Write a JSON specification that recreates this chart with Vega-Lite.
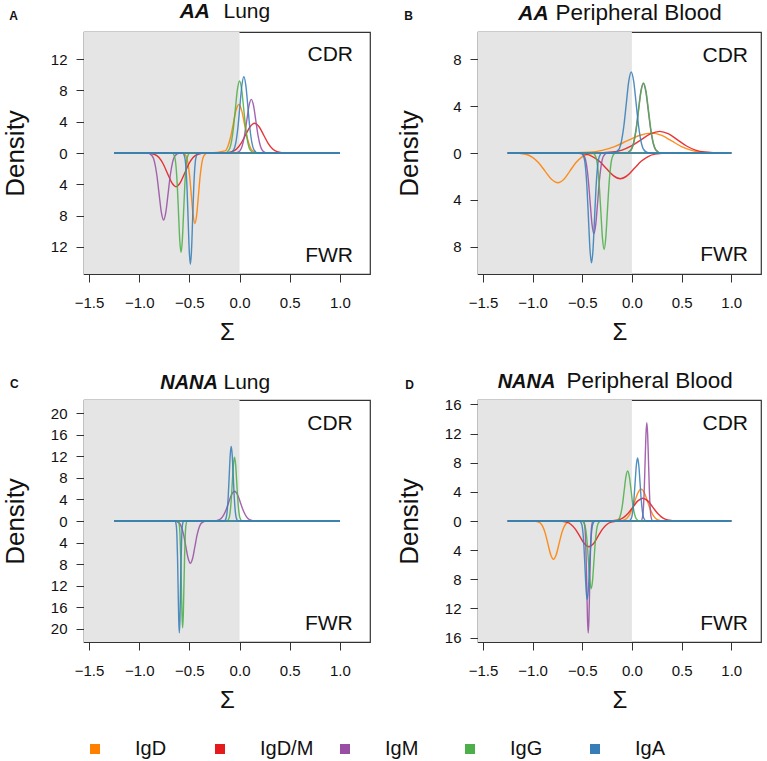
{
"$schema": "https://vega.github.io/schema/vega-lite/v6.json",
"padding": {"left": 1, "top": 0, "right": 0, "bottom": 0},
"config": {
 "font": "Liberation Sans",
 "view": {"stroke": "#333333", "strokeWidth": 1.2},
 "axis": {"domain": false, "grid": false, "tickColor": "#333333", "tickSize": 8, "labelFontSize": 15, "labelColor": "#111111", "titleColor": "#111111", "titleFontWeight": "normal", "labelOverlap": false, "tickCount": 30},
 "line": {"opacity": 0.88},
 "text": {"color": "#111111"}
},
"datasets": {
"A": [
{"g":"IgD","r":"C","x":-1.25,"y":0},{"g":"IgD","r":"C","x":-0.2995,"y":0},{"g":"IgD","r":"C","x":-0.1445,"y":0.27},{"g":"IgD","r":"C","x":-0.117,"y":0.84},{"g":"IgD","r":"C","x":-0.0895,"y":2.01},{"g":"IgD","r":"C","x":-0.062,"y":3.76},{"g":"IgD","r":"C","x":-0.0345,"y":5.47},{"g":"IgD","r":"C","x":-0.007,"y":6.2},{"g":"IgD","r":"C","x":0.0205,"y":5.47},{"g":"IgD","r":"C","x":0.048,"y":3.76},{"g":"IgD","r":"C","x":0.0755,"y":2.01},{"g":"IgD","r":"C","x":0.103,"y":0.84},{"g":"IgD","r":"C","x":0.1305,"y":0.27},{"g":"IgD","r":"C","x":0.1855,"y":0},{"g":"IgD","r":"C","x":1,"y":0},
{"g":"IgD","r":"F","x":-1.25,"y":0},{"g":"IgD","r":"F","x":-0.5675,"y":0},{"g":"IgD","r":"F","x":-0.5325,"y":-0.4},{"g":"IgD","r":"F","x":-0.515,"y":-1.22},{"g":"IgD","r":"F","x":-0.4975,"y":-2.92},{"g":"IgD","r":"F","x":-0.48,"y":-5.46},{"g":"IgD","r":"F","x":-0.4625,"y":-7.94},{"g":"IgD","r":"F","x":-0.445,"y":-9},{"g":"IgD","r":"F","x":-0.4275,"y":-7.94},{"g":"IgD","r":"F","x":-0.41,"y":-5.46},{"g":"IgD","r":"F","x":-0.3925,"y":-2.92},{"g":"IgD","r":"F","x":-0.375,"y":-1.22},{"g":"IgD","r":"F","x":-0.3575,"y":-0.4},{"g":"IgD","r":"F","x":-0.3225,"y":0},{"g":"IgD","r":"F","x":1,"y":0},
{"g":"IgD/M","r":"C","x":-1.25,"y":0},{"g":"IgD/M","r":"C","x":-0.165,"y":0},{"g":"IgD/M","r":"C","x":-0.075,"y":0.17},{"g":"IgD/M","r":"C","x":-0.03,"y":0.51},{"g":"IgD/M","r":"C","x":0.015,"y":1.23},{"g":"IgD/M","r":"C","x":0.06,"y":2.3},{"g":"IgD/M","r":"C","x":0.105,"y":3.35},{"g":"IgD/M","r":"C","x":0.15,"y":3.8},{"g":"IgD/M","r":"C","x":0.195,"y":3.35},{"g":"IgD/M","r":"C","x":0.24,"y":2.3},{"g":"IgD/M","r":"C","x":0.285,"y":1.23},{"g":"IgD/M","r":"C","x":0.33,"y":0.51},{"g":"IgD/M","r":"C","x":0.375,"y":0.17},{"g":"IgD/M","r":"C","x":0.465,"y":0},{"g":"IgD/M","r":"C","x":1,"y":0},
{"g":"IgD/M","r":"F","x":-1.25,"y":0},{"g":"IgD/M","r":"F","x":-0.9305,"y":0},{"g":"IgD/M","r":"F","x":-0.8455,"y":-0.19},{"g":"IgD/M","r":"F","x":-0.803,"y":-0.58},{"g":"IgD/M","r":"F","x":-0.7605,"y":-1.4},{"g":"IgD/M","r":"F","x":-0.718,"y":-2.61},{"g":"IgD/M","r":"F","x":-0.6755,"y":-3.79},{"g":"IgD/M","r":"F","x":-0.633,"y":-4.3},{"g":"IgD/M","r":"F","x":-0.5905,"y":-3.79},{"g":"IgD/M","r":"F","x":-0.548,"y":-2.61},{"g":"IgD/M","r":"F","x":-0.5055,"y":-1.4},{"g":"IgD/M","r":"F","x":-0.463,"y":-0.58},{"g":"IgD/M","r":"F","x":-0.4205,"y":-0.19},{"g":"IgD/M","r":"F","x":-0.3355,"y":0},{"g":"IgD/M","r":"F","x":1,"y":0},
{"g":"IgM","r":"C","x":-1.25,"y":0},{"g":"IgM","r":"C","x":-0.0405,"y":0},{"g":"IgM","r":"C","x":0.0045,"y":0.3},{"g":"IgM","r":"C","x":0.027,"y":0.93},{"g":"IgM","r":"C","x":0.0495,"y":2.22},{"g":"IgM","r":"C","x":0.072,"y":4.15},{"g":"IgM","r":"C","x":0.0945,"y":6.05},{"g":"IgM","r":"C","x":0.117,"y":6.85},{"g":"IgM","r":"C","x":0.1395,"y":6.05},{"g":"IgM","r":"C","x":0.162,"y":4.15},{"g":"IgM","r":"C","x":0.1845,"y":2.22},{"g":"IgM","r":"C","x":0.207,"y":0.93},{"g":"IgM","r":"C","x":0.2295,"y":0.3},{"g":"IgM","r":"C","x":0.2745,"y":0},{"g":"IgM","r":"C","x":1,"y":0},
{"g":"IgM","r":"F","x":-1.25,"y":0},{"g":"IgM","r":"F","x":-0.9145,"y":0},{"g":"IgM","r":"F","x":-0.8695,"y":-0.38},{"g":"IgM","r":"F","x":-0.847,"y":-1.16},{"g":"IgM","r":"F","x":-0.8245,"y":-2.78},{"g":"IgM","r":"F","x":-0.802,"y":-5.19},{"g":"IgM","r":"F","x":-0.7795,"y":-7.55},{"g":"IgM","r":"F","x":-0.757,"y":-8.55},{"g":"IgM","r":"F","x":-0.7345,"y":-7.55},{"g":"IgM","r":"F","x":-0.712,"y":-5.19},{"g":"IgM","r":"F","x":-0.6895,"y":-2.78},{"g":"IgM","r":"F","x":-0.667,"y":-1.16},{"g":"IgM","r":"F","x":-0.6445,"y":-0.38},{"g":"IgM","r":"F","x":-0.5995,"y":0},{"g":"IgM","r":"F","x":1,"y":0},
{"g":"IgG","r":"C","x":-1.25,"y":0},{"g":"IgG","r":"C","x":-0.147,"y":0},{"g":"IgG","r":"C","x":-0.105,"y":0.4},{"g":"IgG","r":"C","x":-0.084,"y":1.24},{"g":"IgG","r":"C","x":-0.063,"y":2.99},{"g":"IgG","r":"C","x":-0.042,"y":5.58},{"g":"IgG","r":"C","x":-0.021,"y":8.12},{"g":"IgG","r":"C","x":0,"y":9.2},{"g":"IgG","r":"C","x":0.021,"y":8.12},{"g":"IgG","r":"C","x":0.042,"y":5.58},{"g":"IgG","r":"C","x":0.063,"y":2.99},{"g":"IgG","r":"C","x":0.084,"y":1.24},{"g":"IgG","r":"C","x":0.105,"y":0.4},{"g":"IgG","r":"C","x":0.147,"y":0},{"g":"IgG","r":"C","x":1,"y":0},
{"g":"IgG","r":"F","x":-1.25,"y":0},{"g":"IgG","r":"F","x":-0.6705,"y":0},{"g":"IgG","r":"F","x":-0.6455,"y":-0.56},{"g":"IgG","r":"F","x":-0.633,"y":-1.72},{"g":"IgG","r":"F","x":-0.6205,"y":-4.12},{"g":"IgG","r":"F","x":-0.608,"y":-7.7},{"g":"IgG","r":"F","x":-0.5955,"y":-11.21},{"g":"IgG","r":"F","x":-0.583,"y":-12.7},{"g":"IgG","r":"F","x":-0.5705,"y":-11.21},{"g":"IgG","r":"F","x":-0.558,"y":-7.7},{"g":"IgG","r":"F","x":-0.5455,"y":-4.12},{"g":"IgG","r":"F","x":-0.533,"y":-1.72},{"g":"IgG","r":"F","x":-0.5205,"y":-0.56},{"g":"IgG","r":"F","x":-0.4955,"y":0},{"g":"IgG","r":"F","x":1,"y":0},
{"g":"IgA","r":"C","x":-1.25,"y":0},{"g":"IgA","r":"C","x":-0.097,"y":0},{"g":"IgA","r":"C","x":-0.057,"y":0.43},{"g":"IgA","r":"C","x":-0.037,"y":1.32},{"g":"IgA","r":"C","x":-0.017,"y":3.16},{"g":"IgA","r":"C","x":0.003,"y":5.91},{"g":"IgA","r":"C","x":0.023,"y":8.6},{"g":"IgA","r":"C","x":0.043,"y":9.74},{"g":"IgA","r":"C","x":0.063,"y":8.6},{"g":"IgA","r":"C","x":0.083,"y":5.91},{"g":"IgA","r":"C","x":0.103,"y":3.16},{"g":"IgA","r":"C","x":0.123,"y":1.32},{"g":"IgA","r":"C","x":0.143,"y":0.43},{"g":"IgA","r":"C","x":0.183,"y":0},{"g":"IgA","r":"C","x":1,"y":0},
{"g":"IgA","r":"F","x":-1.25,"y":0},{"g":"IgA","r":"F","x":-0.567,"y":0},{"g":"IgA","r":"F","x":-0.545,"y":-0.62},{"g":"IgA","r":"F","x":-0.534,"y":-1.92},{"g":"IgA","r":"F","x":-0.523,"y":-4.61},{"g":"IgA","r":"F","x":-0.512,"y":-8.61},{"g":"IgA","r":"F","x":-0.501,"y":-12.53},{"g":"IgA","r":"F","x":-0.49,"y":-14.2},{"g":"IgA","r":"F","x":-0.479,"y":-12.53},{"g":"IgA","r":"F","x":-0.468,"y":-8.61},{"g":"IgA","r":"F","x":-0.457,"y":-4.61},{"g":"IgA","r":"F","x":-0.446,"y":-1.92},{"g":"IgA","r":"F","x":-0.435,"y":-0.62},{"g":"IgA","r":"F","x":-0.413,"y":0},{"g":"IgA","r":"F","x":1,"y":0}
],
"B": [
{"g":"IgD","r":"C","x":-1.25,"y":0},{"g":"IgD","r":"C","x":-0.675,"y":0},{"g":"IgD","r":"C","x":-0.425,"y":0.07},{"g":"IgD","r":"C","x":-0.3,"y":0.23},{"g":"IgD","r":"C","x":-0.175,"y":0.55},{"g":"IgD","r":"C","x":-0.05,"y":1.03},{"g":"IgD","r":"C","x":0.075,"y":1.5},{"g":"IgD","r":"C","x":0.2,"y":1.7},{"g":"IgD","r":"C","x":0.3,"y":1.5},{"g":"IgD","r":"C","x":0.4,"y":1.03},{"g":"IgD","r":"C","x":0.5,"y":0.55},{"g":"IgD","r":"C","x":0.6,"y":0.23},{"g":"IgD","r":"C","x":0.7,"y":0.07},{"g":"IgD","r":"C","x":0.9,"y":0},{"g":"IgD","r":"C","x":1,"y":0},
{"g":"IgD","r":"F","x":-1.25,"y":0},{"g":"IgD","r":"F","x":-1.2,"y":0},{"g":"IgD","r":"F","x":-1.07,"y":-0.11},{"g":"IgD","r":"F","x":-1.005,"y":-0.35},{"g":"IgD","r":"F","x":-0.94,"y":-0.83},{"g":"IgD","r":"F","x":-0.875,"y":-1.55},{"g":"IgD","r":"F","x":-0.81,"y":-2.25},{"g":"IgD","r":"F","x":-0.745,"y":-2.55},{"g":"IgD","r":"F","x":-0.685,"y":-2.25},{"g":"IgD","r":"F","x":-0.625,"y":-1.55},{"g":"IgD","r":"F","x":-0.565,"y":-0.83},{"g":"IgD","r":"F","x":-0.505,"y":-0.35},{"g":"IgD","r":"F","x":-0.445,"y":-0.11},{"g":"IgD","r":"F","x":-0.325,"y":0},{"g":"IgD","r":"F","x":1,"y":0},
{"g":"IgD/M","r":"C","x":-1.25,"y":0},{"g":"IgD/M","r":"C","x":-0.385,"y":0},{"g":"IgD/M","r":"C","x":-0.195,"y":0.08},{"g":"IgD/M","r":"C","x":-0.1,"y":0.25},{"g":"IgD/M","r":"C","x":-0.005,"y":0.6},{"g":"IgD/M","r":"C","x":0.09,"y":1.12},{"g":"IgD/M","r":"C","x":0.185,"y":1.63},{"g":"IgD/M","r":"C","x":0.28,"y":1.85},{"g":"IgD/M","r":"C","x":0.37,"y":1.63},{"g":"IgD/M","r":"C","x":0.46,"y":1.12},{"g":"IgD/M","r":"C","x":0.55,"y":0.6},{"g":"IgD/M","r":"C","x":0.64,"y":0.25},{"g":"IgD/M","r":"C","x":0.73,"y":0.08},{"g":"IgD/M","r":"C","x":0.91,"y":0},{"g":"IgD/M","r":"C","x":1,"y":0},
{"g":"IgD/M","r":"F","x":-1.25,"y":0},{"g":"IgD/M","r":"F","x":-0.607,"y":0},{"g":"IgD/M","r":"F","x":-0.467,"y":-0.1},{"g":"IgD/M","r":"F","x":-0.397,"y":-0.3},{"g":"IgD/M","r":"F","x":-0.327,"y":-0.71},{"g":"IgD/M","r":"F","x":-0.257,"y":-1.33},{"g":"IgD/M","r":"F","x":-0.187,"y":-1.94},{"g":"IgD/M","r":"F","x":-0.117,"y":-2.2},{"g":"IgD/M","r":"F","x":-0.047,"y":-1.94},{"g":"IgD/M","r":"F","x":0.023,"y":-1.33},{"g":"IgD/M","r":"F","x":0.093,"y":-0.71},{"g":"IgD/M","r":"F","x":0.163,"y":-0.3},{"g":"IgD/M","r":"F","x":0.233,"y":-0.1},{"g":"IgD/M","r":"F","x":0.373,"y":0},{"g":"IgD/M","r":"F","x":1,"y":0},
{"g":"IgM","r":"C","x":-1.25,"y":0},{"g":"IgM","r":"C","x":-0.06,"y":0},{"g":"IgM","r":"C","x":-0.01,"y":0.26},{"g":"IgM","r":"C","x":0.015,"y":0.81},{"g":"IgM","r":"C","x":0.04,"y":1.93},{"g":"IgM","r":"C","x":0.065,"y":3.61},{"g":"IgM","r":"C","x":0.09,"y":5.25},{"g":"IgM","r":"C","x":0.115,"y":5.95},{"g":"IgM","r":"C","x":0.14,"y":5.25},{"g":"IgM","r":"C","x":0.165,"y":3.61},{"g":"IgM","r":"C","x":0.19,"y":1.93},{"g":"IgM","r":"C","x":0.215,"y":0.81},{"g":"IgM","r":"C","x":0.24,"y":0.26},{"g":"IgM","r":"C","x":0.29,"y":0},{"g":"IgM","r":"C","x":1,"y":0},
{"g":"IgM","r":"F","x":-1.25,"y":0},{"g":"IgM","r":"F","x":-0.516,"y":0},{"g":"IgM","r":"F","x":-0.478,"y":-0.3},{"g":"IgM","r":"F","x":-0.459,"y":-0.93},{"g":"IgM","r":"F","x":-0.44,"y":-2.24},{"g":"IgM","r":"F","x":-0.421,"y":-4.18},{"g":"IgM","r":"F","x":-0.402,"y":-6.09},{"g":"IgM","r":"F","x":-0.383,"y":-6.9},{"g":"IgM","r":"F","x":-0.364,"y":-6.09},{"g":"IgM","r":"F","x":-0.345,"y":-4.18},{"g":"IgM","r":"F","x":-0.326,"y":-2.24},{"g":"IgM","r":"F","x":-0.307,"y":-0.93},{"g":"IgM","r":"F","x":-0.288,"y":-0.3},{"g":"IgM","r":"F","x":-0.25,"y":0},{"g":"IgM","r":"F","x":1,"y":0},
{"g":"IgG","r":"C","x":-1.25,"y":0},{"g":"IgG","r":"C","x":-0.058,"y":0},{"g":"IgG","r":"C","x":-0.008,"y":0.26},{"g":"IgG","r":"C","x":0.017,"y":0.81},{"g":"IgG","r":"C","x":0.042,"y":1.95},{"g":"IgG","r":"C","x":0.067,"y":3.64},{"g":"IgG","r":"C","x":0.092,"y":5.3},{"g":"IgG","r":"C","x":0.117,"y":6},{"g":"IgG","r":"C","x":0.142,"y":5.3},{"g":"IgG","r":"C","x":0.167,"y":3.64},{"g":"IgG","r":"C","x":0.192,"y":1.95},{"g":"IgG","r":"C","x":0.217,"y":0.81},{"g":"IgG","r":"C","x":0.242,"y":0.26},{"g":"IgG","r":"C","x":0.292,"y":0},{"g":"IgG","r":"C","x":1,"y":0},
{"g":"IgG","r":"F","x":-1.25,"y":0},{"g":"IgG","r":"F","x":-0.3955,"y":0},{"g":"IgG","r":"F","x":-0.3625,"y":-0.36},{"g":"IgG","r":"F","x":-0.346,"y":-1.12},{"g":"IgG","r":"F","x":-0.3295,"y":-2.68},{"g":"IgG","r":"F","x":-0.313,"y":-5},{"g":"IgG","r":"F","x":-0.2965,"y":-7.28},{"g":"IgG","r":"F","x":-0.28,"y":-8.25},{"g":"IgG","r":"F","x":-0.2635,"y":-7.28},{"g":"IgG","r":"F","x":-0.247,"y":-5},{"g":"IgG","r":"F","x":-0.2305,"y":-2.68},{"g":"IgG","r":"F","x":-0.214,"y":-1.12},{"g":"IgG","r":"F","x":-0.1975,"y":-0.36},{"g":"IgG","r":"F","x":-0.1645,"y":0},{"g":"IgG","r":"F","x":1,"y":0},
{"g":"IgA","r":"C","x":-1.25,"y":0},{"g":"IgA","r":"C","x":-0.182,"y":0},{"g":"IgA","r":"C","x":-0.132,"y":0.3},{"g":"IgA","r":"C","x":-0.107,"y":0.94},{"g":"IgA","r":"C","x":-0.082,"y":2.25},{"g":"IgA","r":"C","x":-0.057,"y":4.2},{"g":"IgA","r":"C","x":-0.032,"y":6.12},{"g":"IgA","r":"C","x":-0.007,"y":6.93},{"g":"IgA","r":"C","x":0.018,"y":6.12},{"g":"IgA","r":"C","x":0.043,"y":4.2},{"g":"IgA","r":"C","x":0.068,"y":2.25},{"g":"IgA","r":"C","x":0.093,"y":0.94},{"g":"IgA","r":"C","x":0.118,"y":0.3},{"g":"IgA","r":"C","x":0.168,"y":0},{"g":"IgA","r":"C","x":1,"y":0},
{"g":"IgA","r":"F","x":-1.25,"y":0},{"g":"IgA","r":"F","x":-0.512,"y":0},{"g":"IgA","r":"F","x":-0.482,"y":-0.41},{"g":"IgA","r":"F","x":-0.467,"y":-1.27},{"g":"IgA","r":"F","x":-0.452,"y":-3.05},{"g":"IgA","r":"F","x":-0.437,"y":-5.7},{"g":"IgA","r":"F","x":-0.422,"y":-8.3},{"g":"IgA","r":"F","x":-0.407,"y":-9.4},{"g":"IgA","r":"F","x":-0.392,"y":-8.3},{"g":"IgA","r":"F","x":-0.377,"y":-5.7},{"g":"IgA","r":"F","x":-0.362,"y":-3.05},{"g":"IgA","r":"F","x":-0.347,"y":-1.27},{"g":"IgA","r":"F","x":-0.332,"y":-0.41},{"g":"IgA","r":"F","x":-0.302,"y":0},{"g":"IgA","r":"F","x":1,"y":0}
],
"C": [
{"g":"IgM","r":"C","x":-1.25,"y":0},{"g":"IgM","r":"C","x":-0.26,"y":0},{"g":"IgM","r":"C","x":-0.2,"y":0.24},{"g":"IgM","r":"C","x":-0.17,"y":0.75},{"g":"IgM","r":"C","x":-0.14,"y":1.8},{"g":"IgM","r":"C","x":-0.11,"y":3.35},{"g":"IgM","r":"C","x":-0.08,"y":4.88},{"g":"IgM","r":"C","x":-0.05,"y":5.53},{"g":"IgM","r":"C","x":-0.02,"y":4.88},{"g":"IgM","r":"C","x":0.01,"y":3.35},{"g":"IgM","r":"C","x":0.04,"y":1.8},{"g":"IgM","r":"C","x":0.07,"y":0.75},{"g":"IgM","r":"C","x":0.1,"y":0.24},{"g":"IgM","r":"C","x":0.16,"y":0},{"g":"IgM","r":"C","x":1,"y":0},
{"g":"IgM","r":"F","x":-1.25,"y":0},{"g":"IgM","r":"F","x":-0.6475,"y":0},{"g":"IgM","r":"F","x":-0.6025,"y":-0.34},{"g":"IgM","r":"F","x":-0.58,"y":-1.06},{"g":"IgM","r":"F","x":-0.5575,"y":-2.54},{"g":"IgM","r":"F","x":-0.535,"y":-4.75},{"g":"IgM","r":"F","x":-0.5125,"y":-6.91},{"g":"IgM","r":"F","x":-0.49,"y":-7.83},{"g":"IgM","r":"F","x":-0.4675,"y":-6.91},{"g":"IgM","r":"F","x":-0.445,"y":-4.75},{"g":"IgM","r":"F","x":-0.4225,"y":-2.54},{"g":"IgM","r":"F","x":-0.4,"y":-1.06},{"g":"IgM","r":"F","x":-0.3775,"y":-0.34},{"g":"IgM","r":"F","x":-0.3325,"y":0},{"g":"IgM","r":"F","x":1,"y":0},
{"g":"IgG","r":"C","x":-1.25,"y":0},{"g":"IgG","r":"C","x":-0.127,"y":0},{"g":"IgG","r":"C","x":-0.105,"y":0.52},{"g":"IgG","r":"C","x":-0.094,"y":1.6},{"g":"IgG","r":"C","x":-0.083,"y":3.85},{"g":"IgG","r":"C","x":-0.072,"y":7.19},{"g":"IgG","r":"C","x":-0.061,"y":10.47},{"g":"IgG","r":"C","x":-0.05,"y":11.86},{"g":"IgG","r":"C","x":-0.039,"y":10.47},{"g":"IgG","r":"C","x":-0.028,"y":7.19},{"g":"IgG","r":"C","x":-0.017,"y":3.85},{"g":"IgG","r":"C","x":-0.006,"y":1.6},{"g":"IgG","r":"C","x":0.005,"y":0.52},{"g":"IgG","r":"C","x":0.027,"y":0},{"g":"IgG","r":"C","x":1,"y":0},
{"g":"IgG","r":"F","x":-1.25,"y":0},{"g":"IgG","r":"F","x":-0.6125,"y":0},{"g":"IgG","r":"F","x":-0.5995,"y":-0.87},{"g":"IgG","r":"F","x":-0.593,"y":-2.68},{"g":"IgG","r":"F","x":-0.5865,"y":-6.43},{"g":"IgG","r":"F","x":-0.58,"y":-12.01},{"g":"IgG","r":"F","x":-0.5735,"y":-17.47},{"g":"IgG","r":"F","x":-0.567,"y":-19.8},{"g":"IgG","r":"F","x":-0.5605,"y":-17.47},{"g":"IgG","r":"F","x":-0.554,"y":-12.01},{"g":"IgG","r":"F","x":-0.5475,"y":-6.43},{"g":"IgG","r":"F","x":-0.541,"y":-2.68},{"g":"IgG","r":"F","x":-0.5345,"y":-0.87},{"g":"IgG","r":"F","x":-0.5215,"y":0},{"g":"IgG","r":"F","x":1,"y":0},
{"g":"IgA","r":"C","x":-1.25,"y":0},{"g":"IgA","r":"C","x":-0.153,"y":0},{"g":"IgA","r":"C","x":-0.133,"y":0.61},{"g":"IgA","r":"C","x":-0.123,"y":1.87},{"g":"IgA","r":"C","x":-0.113,"y":4.5},{"g":"IgA","r":"C","x":-0.103,"y":8.4},{"g":"IgA","r":"C","x":-0.093,"y":12.22},{"g":"IgA","r":"C","x":-0.083,"y":13.85},{"g":"IgA","r":"C","x":-0.073,"y":12.22},{"g":"IgA","r":"C","x":-0.063,"y":8.4},{"g":"IgA","r":"C","x":-0.053,"y":4.5},{"g":"IgA","r":"C","x":-0.043,"y":1.87},{"g":"IgA","r":"C","x":-0.033,"y":0.61},{"g":"IgA","r":"C","x":-0.013,"y":0},{"g":"IgA","r":"C","x":1,"y":0},
{"g":"IgA","r":"F","x":-1.25,"y":0},{"g":"IgA","r":"F","x":-0.642,"y":0},{"g":"IgA","r":"F","x":-0.63,"y":-0.91},{"g":"IgA","r":"F","x":-0.624,"y":-2.81},{"g":"IgA","r":"F","x":-0.618,"y":-6.74},{"g":"IgA","r":"F","x":-0.612,"y":-12.58},{"g":"IgA","r":"F","x":-0.606,"y":-18.31},{"g":"IgA","r":"F","x":-0.6,"y":-20.75},{"g":"IgA","r":"F","x":-0.594,"y":-18.31},{"g":"IgA","r":"F","x":-0.588,"y":-12.58},{"g":"IgA","r":"F","x":-0.582,"y":-6.74},{"g":"IgA","r":"F","x":-0.576,"y":-2.81},{"g":"IgA","r":"F","x":-0.57,"y":-0.91},{"g":"IgA","r":"F","x":-0.558,"y":0},{"g":"IgA","r":"F","x":1,"y":0}
],
"D": [
{"g":"IgD","r":"C","x":-1.25,"y":0},{"g":"IgD","r":"C","x":-0.1345,"y":0},{"g":"IgD","r":"C","x":-0.0695,"y":0.19},{"g":"IgD","r":"C","x":-0.037,"y":0.59},{"g":"IgD","r":"C","x":-0.0045,"y":1.42},{"g":"IgD","r":"C","x":0.028,"y":2.65},{"g":"IgD","r":"C","x":0.0605,"y":3.86},{"g":"IgD","r":"C","x":0.093,"y":4.37},{"g":"IgD","r":"C","x":0.1255,"y":3.86},{"g":"IgD","r":"C","x":0.158,"y":2.65},{"g":"IgD","r":"C","x":0.1905,"y":1.42},{"g":"IgD","r":"C","x":0.223,"y":0.59},{"g":"IgD","r":"C","x":0.2555,"y":0.19},{"g":"IgD","r":"C","x":0.3205,"y":0},{"g":"IgD","r":"C","x":1,"y":0},
{"g":"IgD","r":"F","x":-1.25,"y":0},{"g":"IgD","r":"F","x":-0.9825,"y":0},{"g":"IgD","r":"F","x":-0.9275,"y":-0.23},{"g":"IgD","r":"F","x":-0.9,"y":-0.71},{"g":"IgD","r":"F","x":-0.8725,"y":-1.7},{"g":"IgD","r":"F","x":-0.845,"y":-3.18},{"g":"IgD","r":"F","x":-0.8175,"y":-4.62},{"g":"IgD","r":"F","x":-0.79,"y":-5.24},{"g":"IgD","r":"F","x":-0.7625,"y":-4.62},{"g":"IgD","r":"F","x":-0.735,"y":-3.18},{"g":"IgD","r":"F","x":-0.7075,"y":-1.7},{"g":"IgD","r":"F","x":-0.68,"y":-0.71},{"g":"IgD","r":"F","x":-0.6525,"y":-0.23},{"g":"IgD","r":"F","x":-0.5975,"y":0},{"g":"IgD","r":"F","x":1,"y":0},
{"g":"IgD/M","r":"C","x":-1.25,"y":0},{"g":"IgD/M","r":"C","x":-0.24,"y":0},{"g":"IgD/M","r":"C","x":-0.14,"y":0.14},{"g":"IgD/M","r":"C","x":-0.09,"y":0.42},{"g":"IgD/M","r":"C","x":-0.04,"y":1.02},{"g":"IgD/M","r":"C","x":0.01,"y":1.9},{"g":"IgD/M","r":"C","x":0.06,"y":2.76},{"g":"IgD/M","r":"C","x":0.11,"y":3.13},{"g":"IgD/M","r":"C","x":0.16,"y":2.76},{"g":"IgD/M","r":"C","x":0.21,"y":1.9},{"g":"IgD/M","r":"C","x":0.26,"y":1.02},{"g":"IgD/M","r":"C","x":0.31,"y":0.42},{"g":"IgD/M","r":"C","x":0.36,"y":0.14},{"g":"IgD/M","r":"C","x":0.46,"y":0},{"g":"IgD/M","r":"C","x":1,"y":0},
{"g":"IgD/M","r":"F","x":-1.25,"y":0},{"g":"IgD/M","r":"F","x":-0.748,"y":0},{"g":"IgD/M","r":"F","x":-0.658,"y":-0.16},{"g":"IgD/M","r":"F","x":-0.613,"y":-0.48},{"g":"IgD/M","r":"F","x":-0.568,"y":-1.15},{"g":"IgD/M","r":"F","x":-0.523,"y":-2.15},{"g":"IgD/M","r":"F","x":-0.478,"y":-3.12},{"g":"IgD/M","r":"F","x":-0.433,"y":-3.54},{"g":"IgD/M","r":"F","x":-0.388,"y":-3.12},{"g":"IgD/M","r":"F","x":-0.343,"y":-2.15},{"g":"IgD/M","r":"F","x":-0.298,"y":-1.15},{"g":"IgD/M","r":"F","x":-0.253,"y":-0.48},{"g":"IgD/M","r":"F","x":-0.208,"y":-0.16},{"g":"IgD/M","r":"F","x":-0.118,"y":0},{"g":"IgD/M","r":"F","x":1,"y":0},
{"g":"IgM","r":"C","x":-1.25,"y":0},{"g":"IgM","r":"C","x":0.0905,"y":0},{"g":"IgM","r":"C","x":0.1075,"y":0.59},{"g":"IgM","r":"C","x":0.116,"y":1.83},{"g":"IgM","r":"C","x":0.1245,"y":4.38},{"g":"IgM","r":"C","x":0.133,"y":8.19},{"g":"IgM","r":"C","x":0.1415,"y":11.91},{"g":"IgM","r":"C","x":0.15,"y":13.5},{"g":"IgM","r":"C","x":0.1585,"y":11.91},{"g":"IgM","r":"C","x":0.167,"y":8.19},{"g":"IgM","r":"C","x":0.1755,"y":4.38},{"g":"IgM","r":"C","x":0.184,"y":1.83},{"g":"IgM","r":"C","x":0.1925,"y":0.59},{"g":"IgM","r":"C","x":0.2095,"y":0},{"g":"IgM","r":"C","x":1,"y":0},
{"g":"IgM","r":"F","x":-1.25,"y":0},{"g":"IgM","r":"F","x":-0.489,"y":0},{"g":"IgM","r":"F","x":-0.475,"y":-0.67},{"g":"IgM","r":"F","x":-0.468,"y":-2.08},{"g":"IgM","r":"F","x":-0.461,"y":-4.99},{"g":"IgM","r":"F","x":-0.454,"y":-9.32},{"g":"IgM","r":"F","x":-0.447,"y":-13.56},{"g":"IgM","r":"F","x":-0.44,"y":-15.36},{"g":"IgM","r":"F","x":-0.433,"y":-13.56},{"g":"IgM","r":"F","x":-0.426,"y":-9.32},{"g":"IgM","r":"F","x":-0.419,"y":-4.99},{"g":"IgM","r":"F","x":-0.412,"y":-2.08},{"g":"IgM","r":"F","x":-0.405,"y":-0.67},{"g":"IgM","r":"F","x":-0.391,"y":0},{"g":"IgM","r":"F","x":1,"y":0},
{"g":"IgG","r":"C","x":-1.25,"y":0},{"g":"IgG","r":"C","x":-0.1655,"y":0},{"g":"IgG","r":"C","x":-0.1305,"y":0.3},{"g":"IgG","r":"C","x":-0.113,"y":0.93},{"g":"IgG","r":"C","x":-0.0955,"y":2.22},{"g":"IgG","r":"C","x":-0.078,"y":4.15},{"g":"IgG","r":"C","x":-0.0605,"y":6.05},{"g":"IgG","r":"C","x":-0.043,"y":6.85},{"g":"IgG","r":"C","x":-0.0255,"y":6.05},{"g":"IgG","r":"C","x":-0.008,"y":4.15},{"g":"IgG","r":"C","x":0.0095,"y":2.22},{"g":"IgG","r":"C","x":0.027,"y":0.93},{"g":"IgG","r":"C","x":0.0445,"y":0.3},{"g":"IgG","r":"C","x":0.0795,"y":0},{"g":"IgG","r":"C","x":1,"y":0},
{"g":"IgG","r":"F","x":-1.25,"y":0},{"g":"IgG","r":"F","x":-0.5045,"y":0},{"g":"IgG","r":"F","x":-0.4775,"y":-0.41},{"g":"IgG","r":"F","x":-0.464,"y":-1.26},{"g":"IgG","r":"F","x":-0.4505,"y":-3.02},{"g":"IgG","r":"F","x":-0.437,"y":-5.63},{"g":"IgG","r":"F","x":-0.4235,"y":-8.2},{"g":"IgG","r":"F","x":-0.41,"y":-9.29},{"g":"IgG","r":"F","x":-0.3965,"y":-8.2},{"g":"IgG","r":"F","x":-0.383,"y":-5.63},{"g":"IgG","r":"F","x":-0.3695,"y":-3.02},{"g":"IgG","r":"F","x":-0.356,"y":-1.26},{"g":"IgG","r":"F","x":-0.3425,"y":-0.41},{"g":"IgG","r":"F","x":-0.3155,"y":0},{"g":"IgG","r":"F","x":1,"y":0},
{"g":"IgA","r":"C","x":-1.25,"y":0},{"g":"IgA","r":"C","x":-0.0305,"y":0},{"g":"IgA","r":"C","x":-0.0055,"y":0.38},{"g":"IgA","r":"C","x":0.007,"y":1.17},{"g":"IgA","r":"C","x":0.0195,"y":2.81},{"g":"IgA","r":"C","x":0.032,"y":5.24},{"g":"IgA","r":"C","x":0.0445,"y":7.62},{"g":"IgA","r":"C","x":0.057,"y":8.64},{"g":"IgA","r":"C","x":0.0695,"y":7.62},{"g":"IgA","r":"C","x":0.082,"y":5.24},{"g":"IgA","r":"C","x":0.0945,"y":2.81},{"g":"IgA","r":"C","x":0.107,"y":1.17},{"g":"IgA","r":"C","x":0.1195,"y":0.38},{"g":"IgA","r":"C","x":0.1445,"y":0},{"g":"IgA","r":"C","x":1,"y":0},
{"g":"IgA","r":"F","x":-1.25,"y":0},{"g":"IgA","r":"F","x":-0.527,"y":0},{"g":"IgA","r":"F","x":-0.505,"y":-0.47},{"g":"IgA","r":"F","x":-0.494,"y":-1.46},{"g":"IgA","r":"F","x":-0.483,"y":-3.49},{"g":"IgA","r":"F","x":-0.472,"y":-6.53},{"g":"IgA","r":"F","x":-0.461,"y":-9.5},{"g":"IgA","r":"F","x":-0.45,"y":-10.76},{"g":"IgA","r":"F","x":-0.439,"y":-9.5},{"g":"IgA","r":"F","x":-0.428,"y":-6.53},{"g":"IgA","r":"F","x":-0.417,"y":-3.49},{"g":"IgA","r":"F","x":-0.406,"y":-1.46},{"g":"IgA","r":"F","x":-0.395,"y":-0.47},{"g":"IgA","r":"F","x":-0.373,"y":0},{"g":"IgA","r":"F","x":1,"y":0}
]
},
"columns": 2,
"spacing": {"row": 24, "column": 24},
"concat": [
{
 "width": 286, "height": 242,
 "layer": [
  {"data": {"values": [{}]}, "mark": {"type": "rect", "color": "#E5E5E5"}, "encoding": {"x": {"datum": -1.55, "type": "quantitative"}, "x2": {"datum": 0}}},
  {"data": {"name": "A"}, "mark": {"type": "line", "interpolate": "monotone", "strokeWidth": 1.4, "clip": true},
   "encoding": {
    "x": {"field": "x", "type": "quantitative", "scale": {"domain": [-1.55, 1.3], "nice": false, "zero": false}, "axis": {"values": [-1.5, -1, -0.5, 0, 0.5, 1], "format": ".1f", "title": "Σ", "titleFontSize": 24, "titleBaseline": "alphabetic", "titleY": 65, "labelPadding": 13, "labelOverlap": false, "tickCount": 30}},
    "y": {"field": "y", "type": "quantitative", "scale": {"domain": [-15.45, 15.45], "nice": false, "zero": false}, "axis": {"values": [-12, -8, -4, 0, 4, 8, 12], "labelExpr": "abs(datum.value)", "title": "Density", "titleFontSize": 26, "titleX": -61, "titleBaseline": "alphabetic", "labelPadding": 9, "labelOverlap": false, "tickCount": 30}},
    "color": {"field": "g", "type": "nominal", "scale": {"domain": ["IgD", "IgD/M", "IgM", "IgG", "IgA"], "range": ["#FF7F00", "#E41A1C", "#984EA3", "#4DAF4A", "#377EB8"]},
     "legend": {"orient": "none", "legendX": 1, "legendY": 707, "direction": "horizontal", "columns": 5, "gridAlign": "all", "title": null, "symbolType": "square", "symbolSize": 100, "symbolStrokeWidth": 0, "labelFontSize": 20, "labelOffset": 30, "columnPadding": 21, "padding": 0, "labelColor": "#111111", "encode": {"symbols": {"update": {"fill": {"scale": "color", "field": "value"}, "opacity": {"value": 1}}}}}},
    "detail": {"field": "r"}}},
  {"data": {"values": [{"t": "CDR"}]}, "mark": {"type": "text", "align": "right", "baseline": "alphabetic", "fontSize": 21}, "encoding": {"x": {"datum": 1.131, "type": "quantitative"}, "y": {"datum": 11.71, "type": "quantitative"}, "text": {"field": "t"}}},
  {"data": {"values": [{"t": "FWR"}]}, "mark": {"type": "text", "align": "right", "baseline": "alphabetic", "fontSize": 21}, "encoding": {"x": {"datum": 1.131, "type": "quantitative"}, "y": {"datum": -13.96, "type": "quantitative"}, "text": {"field": "t"}}},
  {"data": {"values": [{"t": "AA"}]}, "mark": {"type": "text", "align": "right", "baseline": "alphabetic", "fontSize": 21, "fontWeight": "bold", "fontStyle": "italic"}, "encoding": {"x": {"datum": -0.294, "type": "quantitative"}, "y": {"datum": 17.24, "type": "quantitative"}, "text": {"field": "t"}}},
  {"data": {"values": [{"t": "Lung"}]}, "mark": {"type": "text", "align": "left", "baseline": "alphabetic", "fontSize": 21}, "encoding": {"x": {"datum": -0.16, "type": "quantitative"}, "y": {"datum": 17.24, "type": "quantitative"}, "text": {"field": "t"}}},
  {"data": {"values": [{"t": "A"}]}, "mark": {"type": "text", "align": "center", "baseline": "alphabetic", "fontSize": 12, "fontWeight": "bold"}, "encoding": {"x": {"datum": -2.253, "type": "quantitative"}, "y": {"datum": 16.98, "type": "quantitative"}, "text": {"field": "t"}}}
 ]
},
{
 "width": 283, "height": 242,
 "layer": [
  {"data": {"values": [{}]}, "mark": {"type": "rect", "color": "#E5E5E5"}, "encoding": {"x": {"datum": -1.55, "type": "quantitative"}, "x2": {"datum": 0}}},
  {"data": {"name": "B"}, "mark": {"type": "line", "interpolate": "monotone", "strokeWidth": 1.4, "clip": true},
   "encoding": {
    "x": {"field": "x", "type": "quantitative", "scale": {"domain": [-1.55, 1.3], "nice": false, "zero": false}, "axis": {"values": [-1.5, -1, -0.5, 0, 0.5, 1], "format": ".1f", "title": "Σ", "titleFontSize": 24, "titleBaseline": "alphabetic", "titleY": 65, "labelPadding": 13, "labelOverlap": false, "tickCount": 30}},
    "y": {"field": "y", "type": "quantitative", "scale": {"domain": [-10.35, 10.35], "nice": false, "zero": false}, "axis": {"values": [-8, -4, 0, 4, 8], "labelExpr": "abs(datum.value)", "title": "Density", "titleFontSize": 26, "titleX": -61, "titleBaseline": "alphabetic", "labelPadding": 9, "labelOverlap": false, "tickCount": 30}},
    "color": {"field": "g", "type": "nominal", "scale": {"domain": ["IgD", "IgD/M", "IgM", "IgG", "IgA"], "range": ["#FF7F00", "#E41A1C", "#984EA3", "#4DAF4A", "#377EB8"]}},
    "detail": {"field": "r"}}},
  {"data": {"values": [{"t": "CDR"}]}, "mark": {"type": "text", "align": "right", "baseline": "alphabetic", "fontSize": 21}, "encoding": {"x": {"datum": 1.169, "type": "quantitative"}, "y": {"datum": 7.78, "type": "quantitative"}, "text": {"field": "t"}}},
  {"data": {"values": [{"t": "FWR"}]}, "mark": {"type": "text", "align": "right", "baseline": "alphabetic", "fontSize": 21}, "encoding": {"x": {"datum": 1.169, "type": "quantitative"}, "y": {"datum": -9.26, "type": "quantitative"}, "text": {"field": "t"}}},
  {"data": {"values": [{"t": "AA"}]}, "mark": {"type": "text", "align": "right", "baseline": "alphabetic", "fontSize": 21, "fontWeight": "bold", "fontStyle": "italic"}, "encoding": {"x": {"datum": -0.838, "type": "quantitative"}, "y": {"datum": 11.4, "type": "quantitative"}, "text": {"field": "t"}}},
  {"data": {"values": [{"t": "Peripheral Blood"}]}, "mark": {"type": "text", "align": "left", "baseline": "alphabetic", "fontSize": 22.5}, "encoding": {"x": {"datum": -0.77, "type": "quantitative"}, "y": {"datum": 11.4, "type": "quantitative"}, "text": {"field": "t"}}},
  {"data": {"values": [{"t": "B"}]}, "mark": {"type": "text", "align": "center", "baseline": "alphabetic", "fontSize": 12, "fontWeight": "bold"}, "encoding": {"x": {"datum": -2.248, "type": "quantitative"}, "y": {"datum": 11.38, "type": "quantitative"}, "text": {"field": "t"}}}
 ]
},
{
 "width": 286, "height": 242,
 "layer": [
  {"data": {"values": [{}]}, "mark": {"type": "rect", "color": "#E5E5E5"}, "encoding": {"x": {"datum": -1.55, "type": "quantitative"}, "x2": {"datum": 0}}},
  {"data": {"name": "C"}, "mark": {"type": "line", "interpolate": "monotone", "strokeWidth": 1.4, "clip": true},
   "encoding": {
    "x": {"field": "x", "type": "quantitative", "scale": {"domain": [-1.55, 1.3], "nice": false, "zero": false}, "axis": {"values": [-1.5, -1, -0.5, 0, 0.5, 1], "format": ".1f", "title": "Σ", "titleFontSize": 24, "titleBaseline": "alphabetic", "titleY": 65, "labelPadding": 13, "labelOverlap": false, "tickCount": 30}},
    "y": {"field": "y", "type": "quantitative", "scale": {"domain": [-22.45, 22.45], "nice": false, "zero": false}, "axis": {"values": [-20, -16, -12, -8, -4, 0, 4, 8, 12, 16, 20], "labelExpr": "abs(datum.value)", "title": "Density", "titleFontSize": 26, "titleX": -61, "titleBaseline": "alphabetic", "labelPadding": 9, "labelOverlap": false, "tickCount": 30}},
    "color": {"field": "g", "type": "nominal", "scale": {"domain": ["IgD", "IgD/M", "IgM", "IgG", "IgA"], "range": ["#FF7F00", "#E41A1C", "#984EA3", "#4DAF4A", "#377EB8"]}},
    "detail": {"field": "r"}}},
  {"data": {"values": [{"t": "CDR"}]}, "mark": {"type": "text", "align": "right", "baseline": "alphabetic", "fontSize": 21}, "encoding": {"x": {"datum": 1.128, "type": "quantitative"}, "y": {"datum": 16.88, "type": "quantitative"}, "text": {"field": "t"}}},
  {"data": {"values": [{"t": "FWR"}]}, "mark": {"type": "text", "align": "right", "baseline": "alphabetic", "fontSize": 21}, "encoding": {"x": {"datum": 1.128, "type": "quantitative"}, "y": {"datum": -20.28, "type": "quantitative"}, "text": {"field": "t"}}},
  {"data": {"values": [{"t": "NANA"}]}, "mark": {"type": "text", "align": "right", "baseline": "alphabetic", "fontSize": 20, "fontWeight": "bold", "fontStyle": "italic"}, "encoding": {"x": {"datum": -0.215, "type": "quantitative"}, "y": {"datum": 24.43, "type": "quantitative"}, "text": {"field": "t"}}},
  {"data": {"values": [{"t": "Lung"}]}, "mark": {"type": "text", "align": "left", "baseline": "alphabetic", "fontSize": 21}, "encoding": {"x": {"datum": -0.16, "type": "quantitative"}, "y": {"datum": 24.43, "type": "quantitative"}, "text": {"field": "t"}}},
  {"data": {"values": [{"t": "C"}]}, "mark": {"type": "text", "align": "center", "baseline": "alphabetic", "fontSize": 12, "fontWeight": "bold"}, "encoding": {"x": {"datum": -2.245, "type": "quantitative"}, "y": {"datum": 24.68, "type": "quantitative"}, "text": {"field": "t"}}}
 ]
},
{
 "width": 283, "height": 242,
 "layer": [
  {"data": {"values": [{}]}, "mark": {"type": "rect", "color": "#E5E5E5"}, "encoding": {"x": {"datum": -1.55, "type": "quantitative"}, "x2": {"datum": 0}}},
  {"data": {"name": "D"}, "mark": {"type": "line", "interpolate": "monotone", "strokeWidth": 1.4, "clip": true},
   "encoding": {
    "x": {"field": "x", "type": "quantitative", "scale": {"domain": [-1.55, 1.3], "nice": false, "zero": false}, "axis": {"values": [-1.5, -1, -0.5, 0, 0.5, 1], "format": ".1f", "title": "Σ", "titleFontSize": 24, "titleBaseline": "alphabetic", "titleY": 65, "labelPadding": 13, "labelOverlap": false, "tickCount": 30}},
    "y": {"field": "y", "type": "quantitative", "scale": {"domain": [-16.6, 16.6], "nice": false, "zero": false}, "axis": {"values": [-16, -12, -8, -4, 0, 4, 8, 12, 16], "labelExpr": "abs(datum.value)", "title": "Density", "titleFontSize": 26, "titleX": -61, "titleBaseline": "alphabetic", "labelPadding": 9, "labelOverlap": false, "tickCount": 30}},
    "color": {"field": "g", "type": "nominal", "scale": {"domain": ["IgD", "IgD/M", "IgM", "IgG", "IgA"], "range": ["#FF7F00", "#E41A1C", "#984EA3", "#4DAF4A", "#377EB8"]}},
    "detail": {"field": "r"}}},
  {"data": {"values": [{"t": "CDR"}]}, "mark": {"type": "text", "align": "right", "baseline": "alphabetic", "fontSize": 21}, "encoding": {"x": {"datum": 1.169, "type": "quantitative"}, "y": {"datum": 12.48, "type": "quantitative"}, "text": {"field": "t"}}},
  {"data": {"values": [{"t": "FWR"}]}, "mark": {"type": "text", "align": "right", "baseline": "alphabetic", "fontSize": 21}, "encoding": {"x": {"datum": 1.169, "type": "quantitative"}, "y": {"datum": -14.99, "type": "quantitative"}, "text": {"field": "t"}}},
  {"data": {"values": [{"t": "NANA"}]}, "mark": {"type": "text", "align": "right", "baseline": "alphabetic", "fontSize": 20, "fontWeight": "bold", "fontStyle": "italic"}, "encoding": {"x": {"datum": -0.77, "type": "quantitative"}, "y": {"datum": 18.29, "type": "quantitative"}, "text": {"field": "t"}}},
  {"data": {"values": [{"t": "Peripheral Blood"}]}, "mark": {"type": "text", "align": "left", "baseline": "alphabetic", "fontSize": 22.5}, "encoding": {"x": {"datum": -0.66, "type": "quantitative"}, "y": {"datum": 18.29, "type": "quantitative"}, "text": {"field": "t"}}},
  {"data": {"values": [{"t": "D"}]}, "mark": {"type": "text", "align": "center", "baseline": "alphabetic", "fontSize": 12, "fontWeight": "bold"}, "encoding": {"x": {"datum": -2.24, "type": "quantitative"}, "y": {"datum": 18.1, "type": "quantitative"}, "text": {"field": "t"}}}
 ]
}
],
"resolve": {"scale": {"x": "independent", "y": "independent"}}
}
